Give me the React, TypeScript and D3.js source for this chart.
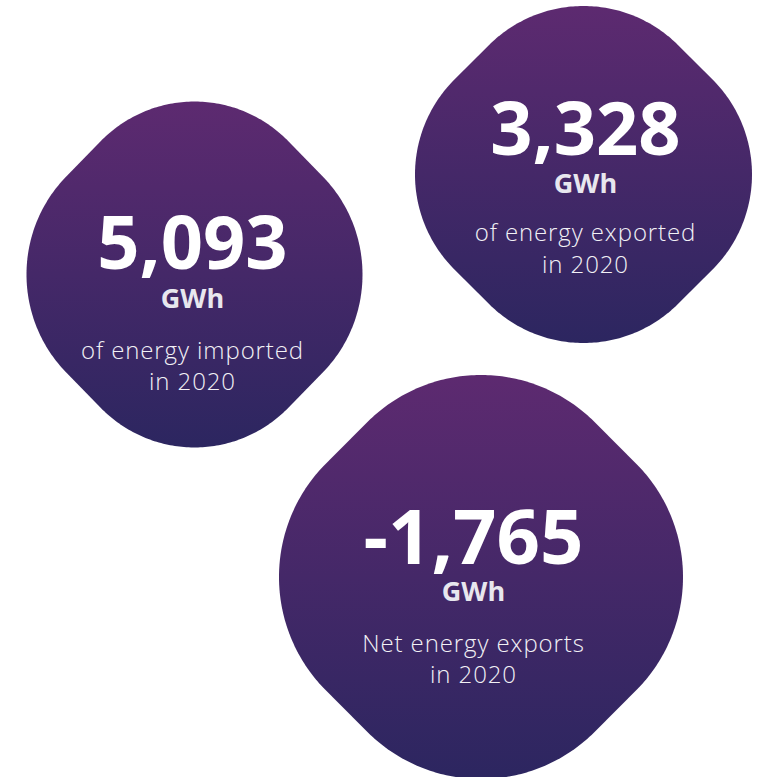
import React from "react";
import * as d3 from "d3";

// ---- data ----
const values: number[] = [5093, 3328, -1765];
const units: string[] = ["GWh", "GWh", "GWh"];
const captionLine1: string[] = ["of energy imported", "of energy exported", "Net energy exports"];
const captionLine2: string[] = ["in 2020", "in 2020", "in 2020"];

// ---- layout (positions / sizes) ----
const blobLayout = [
  { cx: 194.5, cy: 274.5, ex: 168, ey: 173, flat: 0.94, tx: 192.5, numY: 269, unitY: 308, cap1Y: 359, cap2Y: 390, numSize: 74 },
  { cx: 583.5, cy: 174.5, ex: 168.5, ey: 168.5, flat: 0.94, tx: 585.5, numY: 155, unitY: 192.5, cap1Y: 241, cap2Y: 273, numSize: 74 },
  { cx: 481, cy: 577, ex: 202, ey: 202, flat: 0.94, tx: 473.5, numY: 564, unitY: 601, cap1Y: 652, cap2Y: 683, numSize: 76 },
];

const W = 761;
const H = 777;

const fmt = d3.formatLocale({
  decimal: ".",
  thousands: ",",
  grouping: [3],
  currency: ["", ""],
  minus: "-",
}).format(",");

// rounded square rotated 45deg: flat edges on the diagonals, round extremes top/bottom/left/right
function blobPoints(cx: number, cy: number, ex: number, ey: number, flatRatio: number): [number, number][] {
  const E = 1;
  const D = flatRatio;
  const h = (E - D) / (Math.SQRT2 - 1);
  const r = D - h;
  const pts: [number, number][] = [];
  const n = 360;
  for (let i = 0; i < n; i++) {
    const t = ((i + 0.5) / n) * Math.PI * 2;
    const c = Math.cos(t);
    const s = Math.sin(t);
    const x = Math.sign(c) * h + r * c;
    const y = Math.sign(s) * h + r * s;
    const xr = (x - y) / Math.SQRT2;
    const yr = (x + y) / Math.SQRT2;
    pts.push([cx + xr * ex, cy + yr * ey]);
  }
  return pts;
}

const line = d3.line<[number, number]>().curve(d3.curveLinearClosed);

const FONT = "'Open Sans', 'Noto Sans', sans-serif";

export default function App() {
  return (
    <div style={{ position: "absolute", left: 0, top: 0, width: W, height: H, background: "#ffffff" }}>
      <svg width={W} height={H} viewBox={`0 0 ${W} ${H}`} style={{ display: "block" }}>
        <defs>
          {blobLayout.map((_, i) => (
            <linearGradient key={i} id={`blobGrad${i}`} x1="0" y1="0" x2="0" y2="1">
              <stop offset="0" stopColor="#5d2a70" />
              <stop offset="1" stopColor="#2c2660" />
            </linearGradient>
          ))}
        </defs>
        {values.map((v, i) => {
          const b = blobLayout[i];
          return (
            <g key={i}>
              <path d={line(blobPoints(b.cx, b.cy, b.ex, b.ey, b.flat)) || ""} fill={`url(#blobGrad${i})`} />
              <text x={b.tx} y={b.numY} textAnchor="middle" fontFamily={FONT} fontWeight={700} fontSize={b.numSize} fill="#ffffff">
                {fmt(v)}
              </text>
              <text x={b.tx} y={b.unitY} textAnchor="middle" fontFamily={FONT} fontWeight={700} fontSize={27} fill="#e8e7ee">
                {units[i]}
              </text>
              <text x={b.tx} y={b.cap1Y} textAnchor="middle" fontFamily={FONT} fontWeight={300} fontSize={24} letterSpacing={0.9} fill="#f2f1f6">
                {captionLine1[i]}
              </text>
              <text x={b.tx} y={b.cap2Y} textAnchor="middle" fontFamily={FONT} fontWeight={300} fontSize={24} letterSpacing={0.9} fill="#f2f1f6">
                {captionLine2[i]}
              </text>
            </g>
          );
        })}
      </svg>
    </div>
  );
}
